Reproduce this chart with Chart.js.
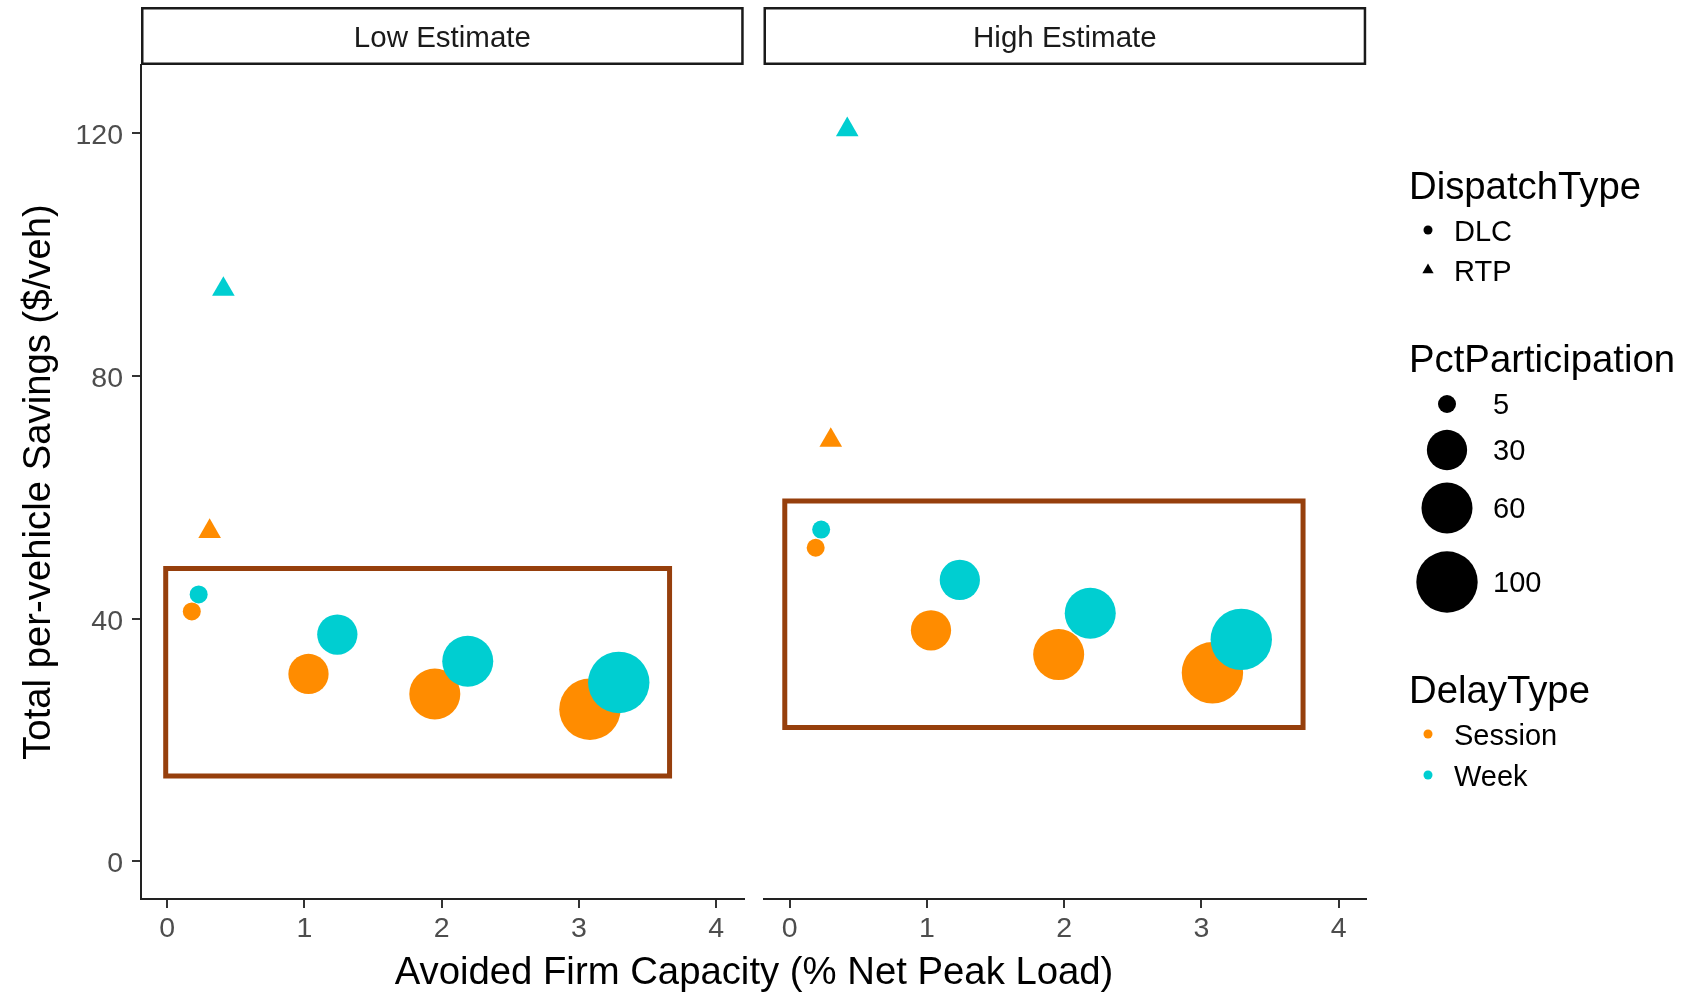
<!DOCTYPE html>
<html><head><meta charset="utf-8">
<script src="https://cdn.jsdelivr.net/npm/chart.js@4.4.0/dist/chart.umd.min.js"></script>
<style>
html,body{margin:0;padding:0;background:#fff;}
#wrap{position:relative;width:1693px;height:993px;overflow:hidden;}
canvas{position:absolute;left:0;top:0;}
</style></head><body>
<div id="wrap">
<canvas id="cLow" width="1693" height="993"></canvas>
<canvas id="cHigh" width="1693" height="993"></canvas>
</div>
<script>
// ---------------- data ----------------
const panelNames = ['Low Estimate', 'High Estimate'];
const participation = [5, 30, 60, 100];
const xTicks = [0, 1, 2, 3, 4];
const yTicks = [0, 40, 80, 120];
const legendSizes = [5, 30, 60, 100];
const delayTypes = ['Session', 'Week'];
const dispatchTypes = ['DLC', 'RTP'];

// DLC dispatch, one value per participation level
const lowSessionCap = [0.18, 1.03, 1.95, 3.08];
const lowSessionSav = [41.2, 30.9, 27.6, 25.1];
const lowWeekCap = [0.23, 1.24, 2.19, 3.29];
const lowWeekSav = [44.0, 37.4, 33.0, 29.5];
const highSessionCap = [0.19, 1.03, 1.96, 3.08];
const highSessionSav = [51.7, 38.1, 34.1, 31.1];
const highWeekCap = [0.23, 1.24, 2.19, 3.29];
const highWeekSav = [54.7, 46.4, 40.9, 36.6];
// RTP dispatch [Session, Week]
const rtpParticipation = [5, 5];
const lowRtpCap = [0.31, 0.41];
const lowRtpSav = [54.4, 94.3];
const highRtpCap = [0.30, 0.42];
const highRtpSav = [69.4, 120.6];
// highlighted DLC region: [xmin, xmax], [ymin, ymax]
const lowBoxX = [-0.01, 3.66];
const lowBoxY = [14.1, 48.3];
const highBoxX = [-0.035, 3.74];
const highBoxY = [22.1, 59.4];

// ---------------- styling ----------------
const COL = { Session: '#FF8C00', Week: '#00CED1' };
const BOX_COL = '#963F0C';
const FONT = "'Liberation Sans', Arial, sans-serif";
Chart.defaults.font.family = FONT;

function sizeR(p) { return 9 + 21.7 * Math.sqrt((p - 5) / 95); }
function bubbles(cap, sav, part, tri) {
  return cap.map((x, i) => ({ x: x, y: sav[i], r: tri ? sizeR(part[i]) * 1.45 : sizeR(part[i]) }));
}
function boxPath(bx, by) {
  const mx = (bx[0] + bx[1]) / 2;
  return [
    { x: mx, y: by[1] }, { x: bx[1], y: by[1] }, { x: bx[1], y: by[0] },
    { x: bx[0], y: by[0] }, { x: bx[0], y: by[1] }, { x: mx, y: by[1] }
  ];
}
function panelDatasets(sCap, sSav, wCap, wSav, rCap, rSav, bx, by) {
  return [
    { type: 'line', data: boxPath(bx, by), borderColor: BOX_COL, borderWidth: 5,
      pointRadius: 0, fill: false, tension: 0, borderJoinStyle: 'miter', order: 5 },
    { label: 'DLC Session', data: bubbles(sCap, sSav, participation), backgroundColor: COL.Session, borderWidth: 0, order: 4 },
    { label: 'DLC Week', data: bubbles(wCap, wSav, participation), backgroundColor: COL.Week, borderWidth: 0, order: 3 },
    { label: 'RTP Session', data: bubbles([rCap[0]], [rSav[0]], [rtpParticipation[0]], true), pointStyle: 'triangle',
      backgroundColor: COL.Session, borderWidth: 0, order: 2 },
    { label: 'RTP Week', data: bubbles([rCap[1]], [rSav[1]], [rtpParticipation[1]], true), pointStyle: 'triangle',
      backgroundColor: COL.Week, borderWidth: 0, order: 1 }
  ];
}

function scalesFor(showY) {
  return {
    x: {
      type: 'linear', min: -0.19, max: 4.2,
      afterBuildTicks: s => { s.ticks = xTicks.map(v => ({ value: v })); },
      afterFit: s => { s.height = 94; },
      grid: { display: true, drawOnChartArea: false, drawTicks: true, tickLength: 9, color: '#333', lineWidth: 2 },
      border: { display: true, color: '#222', width: 2 },
      ticks: { font: { size: 28.5 }, color: '#4D4D4D', padding: 4, maxRotation: 0, autoSkip: false, callback: v => String(v) }
    },
    y: {
      type: 'linear', display: showY, min: -6.18, max: 131.25,
      afterBuildTicks: s => { s.ticks = yTicks.map(v => ({ value: v })); },
      afterFit: s => { if (showY) s.width = 141; },
      grid: { display: true, drawOnChartArea: false, drawTicks: true, tickLength: 9, color: '#333', lineWidth: 2 },
      border: { display: true, color: '#222', width: 2 },
      ticks: { font: { size: 28.5 }, color: '#4D4D4D', padding: 9, labelOffset: 3, autoSkip: false, callback: v => String(v) },
      title: { display: true, text: 'Total per-vehicle Savings ($/veh)', font: { size: 38.3 }, color: '#000', padding: { top: 16, bottom: 0 } }
    }
  };
}

const stripPlugin = {
  id: 'strip',
  afterDraw(chart, args, opts) {
    const ctx = chart.ctx, a = chart.chartArea;
    ctx.save();
    ctx.fillStyle = '#fff';
    ctx.strokeStyle = '#1A1A1A';
    ctx.lineWidth = 2.5;
    const top = 7, bottom = a.top;
    ctx.fillRect(a.left, top, a.right - a.left, bottom - top);
    ctx.strokeRect(a.left + 1.25, top + 1.25, a.right - a.left - 2.5, bottom - top - 2.5);
    ctx.fillStyle = '#1A1A1A';
    ctx.font = '29.5px ' + FONT;
    ctx.textAlign = 'center';
    ctx.textBaseline = 'middle';
    ctx.fillText(opts.text, (a.left + a.right) / 2, (top + bottom) / 2 + 3);
    ctx.restore();
  }
};

const xTitlePlugin = {
  id: 'xTitle',
  afterDraw(chart, args, opts) {
    if (!opts.show) return;
    const ctx = chart.ctx;
    ctx.save();
    ctx.fillStyle = '#000';
    ctx.font = '38.3px ' + FONT;
    ctx.textAlign = 'center';
    ctx.textBaseline = 'middle';
    ctx.fillText('Avoided Firm Capacity (% Net Peak Load)', 754, 973);
    ctx.restore();
  }
};

const legendPlugin = {
  id: 'sideLegend',
  afterDraw(chart, args, opts) {
    if (!opts.show) return;
    const ctx = chart.ctx;
    ctx.save();
    ctx.textAlign = 'left';
    ctx.textBaseline = 'middle';
    const title = (t, y) => { ctx.fillStyle = '#000'; ctx.font = '38.3px ' + FONT; ctx.fillText(t, 1409, y); };
    const label = (t, x, y) => { ctx.fillStyle = '#000'; ctx.font = '29px ' + FONT; ctx.fillText(t, x, y); };
    const dot = (x, y, r, c) => { ctx.fillStyle = c; ctx.beginPath(); ctx.arc(x, y, r, 0, Math.PI * 2); ctx.fill(); };
    const tri = (x, y, r, c) => {
      ctx.fillStyle = c; ctx.beginPath();
      ctx.moveTo(x, y - r); ctx.lineTo(x + r * 0.866, y + r / 2); ctx.lineTo(x - r * 0.866, y + r / 2);
      ctx.closePath(); ctx.fill();
    };
    title('DispatchType', 188);
    dot(1428, 230, 4.5, '#000'); label(dispatchTypes[0], 1454, 233);
    tri(1428, 270, 6.5, '#000'); label(dispatchTypes[1], 1454, 273);
    title('PctParticipation', 361);
    const ys = [404, 450, 508, 582];
    legendSizes.forEach((p, i) => { dot(1447, ys[i], sizeR(p), '#000'); label(String(p), 1493, ys[i] + 2); });
    title('DelayType', 692);
    dot(1428, 734, 4.5, COL.Session); label(delayTypes[0], 1454, 737);
    dot(1428, 775, 4.5, COL.Week); label(delayTypes[1], 1454, 778);
    ctx.restore();
  }
};

function makeChart(id, ds, showY, pad, name, showXTitle, showLegend) {
  return new Chart(document.getElementById(id), {
    type: 'bubble',
    data: { datasets: ds },
    options: {
      responsive: false, animation: false, events: [],
      layout: { padding: pad },
      scales: scalesFor(showY),
      plugins: {
        legend: { display: false }, tooltip: { enabled: false },
        strip: { text: name }, xTitle: { show: showXTitle }, sideLegend: { show: showLegend }
      }
    },
    plugins: [stripPlugin, xTitlePlugin, legendPlugin]
  });
}

makeChart('cLow',
  panelDatasets(lowSessionCap, lowSessionSav, lowWeekCap, lowWeekSav, lowRtpCap, lowRtpSav, lowBoxX, lowBoxY),
  true, { left: 0, top: 65, right: 1693 - 743.7, bottom: 0 }, panelNames[0], true, false);
makeChart('cHigh',
  panelDatasets(highSessionCap, highSessionSav, highWeekCap, highWeekSav, highRtpCap, highRtpSav, highBoxX, highBoxY),
  false, { left: 763.5, top: 65, right: 1693 - 1366.2, bottom: 0 }, panelNames[1], false, true);
</script>
</body></html>
